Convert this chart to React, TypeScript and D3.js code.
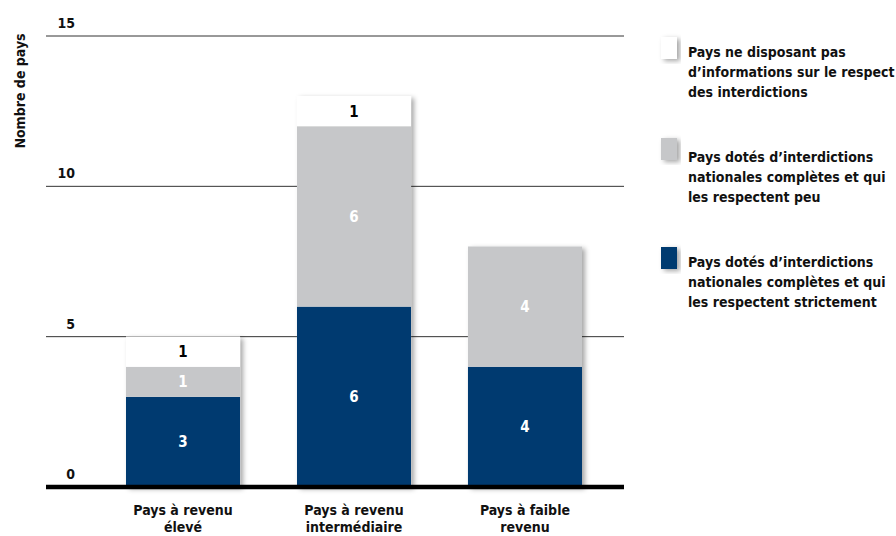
import React from "react";
import * as d3 from "d3";

const categories = [["Pays à revenu", "élevé"], ["Pays à revenu", "intermédiaire"], ["Pays à faible", "revenu"]];
const strict = [3, 6, 4];
const peu = [1, 6, 4];
const noInfo = [1, 1, 0];
const yTicks = [0, 5, 10, 15];
const legendItems = [
  { color: "#ffffff", lines: ["Pays ne disposant pas", "d’informations sur le respect", "des interdictions"] },
  { color: "#c6c7c9", lines: ["Pays dotés d’interdictions", "nationales complètes et qui", "les respectent peu"] },
  { color: "#003a70", lines: ["Pays dotés d’interdictions", "nationales complètes et qui", "les respectent strictement"] },
];

const FONT = "'Liberation Sans Narrow', 'DejaVu Sans Condensed', 'Roboto Condensed', 'Arial Narrow', sans-serif";

export default function App() {
  const W = 896, H = 536;
  const y = d3.scaleLinear().domain([0, 15]).range([487, 36]);
  const x = d3.scaleBand<string>().domain(categories.map((c) => c.join(" "))).range([126, 582]).paddingInner(0.333).paddingOuter(0);
  const series = [
    { key: "strict", values: strict, fill: "#003a70", text: "#ffffff" },
    { key: "peu", values: peu, fill: "#c6c7c9", text: "#ffffff" },
    { key: "none", values: noInfo, fill: "#ffffff", text: "#000000" },
  ];
  const rows = categories.map((c, i) => ({ cat: c.join(" "), strict: strict[i], peu: peu[i], none: noInfo[i] }));
  const stack = d3.stack<any>().keys(series.map((s) => s.key))(rows);

  return (
    <svg width={W} height={H} style={{ position: "absolute", left: 0, top: 0, fontFamily: FONT, fontWeight: "bold" }}>
      <defs>
        <filter id="sh" x="-20%" y="-20%" width="140%" height="140%">
          <feDropShadow dx="3" dy="2" stdDeviation="2.5" floodColor="#000" floodOpacity="0.35" />
        </filter>
      </defs>
      <rect width={W} height={H} fill="#fff" />
      {yTicks.filter((t) => t > 0).map((t) => (
        <line key={t} x1={46} x2={624} y1={y(t)} y2={y(t)} stroke="#333" strokeWidth={1} />
      ))}
      {yTicks.map((t) => (
        <text key={t} x={75} y={y(t) - 8} textAnchor="end" fontSize={14} fill="#111">{t}</text>
      ))}
      <text transform={`translate(25,91) rotate(-90)`} textAnchor="middle" fontSize={14} fill="#111">Nombre de pays</text>
      {rows.map((r, i) => {
        const total = r.strict + r.peu + r.none;
        return (
          <rect key={"s" + i} x={x(r.cat)} width={x.bandwidth()} y={y(total)} height={y(0) - y(total)} fill="#fff" filter="url(#sh)" />
        );
      })}
      {stack.map((layer, si) => (
        <g key={layer.key}>
          {layer.map((d, i) => {
            const v = d[1] - d[0];
            if (v <= 0) return null;
            const cat = rows[i].cat;
            return (
              <g key={i}>
                <rect x={x(cat)} width={x.bandwidth()} y={y(d[1])} height={y(d[0]) - y(d[1])} fill={series[si].fill} />
                <text x={(x(cat) as number) + x.bandwidth() / 2} y={(y(d[0]) + y(d[1])) / 2 + 5.5} textAnchor="middle" fontSize={15} fill={series[si].text}>{v}</text>
              </g>
            );
          })}
        </g>
      ))}
      <line x1={46} x2={624} y1={y(0)} y2={y(0)} stroke="#000" strokeWidth={4.5} />
      {categories.map((c) => (
        <text key={c.join(" ")} x={(x(c.join(" ")) as number) + x.bandwidth() / 2} y={515} textAnchor="middle" fontSize={14} fill="#111">
          <tspan x={(x(c.join(" ")) as number) + x.bandwidth() / 2} dy={0}>{c[0]}</tspan>
          <tspan x={(x(c.join(" ")) as number) + x.bandwidth() / 2} dy={17}>{c[1]}</tspan>
        </text>
      ))}
      {legendItems.map((l, i) => {
        const top = [37, 138, 247][i];
        const base = [57, 162, 267][i];
        return (
          <g key={i}>
            <rect x={661} y={top} width={16} height={22} fill={l.color} filter="url(#sh)" />
            {l.lines.map((ln, j) => (
              <text key={j} x={688} y={base + j * 20} fontSize={14} fill="#111">{ln}</text>
            ))}
          </g>
        );
      })}
    </svg>
  );
}
